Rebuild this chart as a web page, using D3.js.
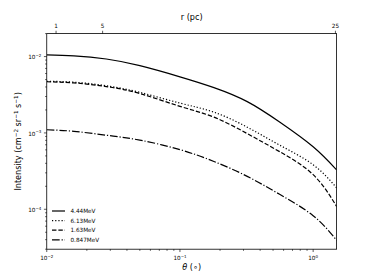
<!DOCTYPE html>
<html><head><meta charset="utf-8">
<script src="https://cdn.jsdelivr.net/npm/d3@7"></script>
<style>body{margin:0;background:#fff} text{font-family:"DejaVu Sans",sans-serif;fill:#000}</style>
</head><body>
<svg id="c" width="374" height="280"></svg>
<script>
// ---- data ----
const theta   = [0.01, 0.016, 0.028, 0.05, 0.1, 0.18, 0.32, 0.56, 1.0, 1.5];
const s444    = [0.01055, 0.01024, 0.00929, 0.0076, 0.00543, 0.00392, 0.00257, 0.00139, 6.59e-4, 3.28e-4];
const s613    = [0.00475, 0.00462, 0.00415, 0.00340, 0.00246, 0.00187, 0.00119, 6.93e-4, 3.83e-4, 1.91e-4];
const s163    = [0.00468, 0.00452, 0.00405, 0.00328, 0.00223, 0.00161, 9.8e-4, 5.69e-4, 2.84e-4, 1.09e-4];
const s0847   = [0.00110, 0.00105, 9.33e-4, 8.05e-4, 6.04e-4, 4.23e-4, 2.70e-4, 1.57e-4, 8.24e-5, 3.93e-5];
const seriesNames = ["4.44MeV", "6.13MeV", "1.63MeV", "0.847MeV"];
const xTickVals = [0.01, 0.1, 1];
const xTickExp  = ["\u22122", "\u22121", "0"];
const yTickVals = [1e-4, 1e-3, 1e-2];
const yTickExp  = ["\u22124", "\u22123", "\u22122"];
const rTicks    = [1, 5, 25];
const xDomain = [0.01, 1.5];
const yDomain = [3e-5, 2e-2];
const rDomain = [0.2, 25.1];

// ---- layout ----
const W = 374, H = 280;
const L = 46.75, R = 336.6, T = 33.6, B = 249.2;
const svg = d3.select("#c");
svg.append("rect").attr("width", W).attr("height", H).attr("fill", "#fff");

const x = d3.scaleLog().domain(xDomain).range([L, R]);
const y = d3.scaleLog().domain(yDomain).range([B, T]);
const xr = d3.scaleLinear().domain(rDomain).range([L, R]);

const lw = 1.2;
const dashes = [null, `${1*lw},${1.65*lw}`, `${3.7*lw},${1.6*lw}`, `${6.4*lw},${1.6*lw},${1*lw},${1.6*lw}`];
const series = [s444, s613, s163, s0847];

svg.append("clipPath").attr("id", "clp").append("rect")
  .attr("x", L).attr("y", T).attr("width", R - L).attr("height", B - T);

const line = d3.line().x((d, i) => x(theta[i])).y(d => y(d)).curve(d3.curveNatural);
const g = svg.append("g").attr("clip-path", "url(#clp)");
series.forEach((s, k) => {
  g.append("path").attr("d", line(s)).attr("fill", "none").attr("stroke", "#000")
    .attr("stroke-width", lw).attr("stroke-dasharray", dashes[k]);
});

function minors(dom) {
  const out = [];
  const a = Math.floor(Math.log10(dom[0])), b = Math.ceil(Math.log10(dom[1]));
  for (let e = a; e <= b; e++) for (let m = 2; m <= 9; m++) {
    const v = m * Math.pow(10, e);
    if (v >= dom[0] && v <= dom[1]) out.push(v);
  }
  return out;
}
const tickW = 0.65, majL = 2.84, minL = 1.6;
const fsTick = 5.7, fsLab = 8.1;

// bottom axis
const gb = svg.append("g");
xTickVals.forEach((v, i) => {
  gb.append("line").attr("x1", x(v)).attr("x2", x(v)).attr("y1", B).attr("y2", B + majL)
    .attr("stroke", "#000").attr("stroke-width", tickW);
  const t = gb.append("text").attr("x", x(v)).attr("y", B + 11).attr("text-anchor", "middle")
    .attr("font-size", fsTick);
  t.append("tspan").text("10");
  t.append("tspan").attr("dy", -2.2).attr("font-size", fsTick * 0.7).text(xTickExp[i]);
});
minors(xDomain).forEach(v => {
  gb.append("line").attr("x1", x(v)).attr("x2", x(v)).attr("y1", B).attr("y2", B + minL)
    .attr("stroke", "#000").attr("stroke-width", tickW);
});

// left axis
const gl = svg.append("g");
yTickVals.forEach((v, i) => {
  gl.append("line").attr("x1", L - majL).attr("x2", L).attr("y1", y(v)).attr("y2", y(v))
    .attr("stroke", "#000").attr("stroke-width", tickW);
  const t = gl.append("text").attr("x", L - 5.5).attr("y", y(v) + 2.6).attr("text-anchor", "end")
    .attr("font-size", fsTick);
  t.append("tspan").text("10");
  t.append("tspan").attr("dy", -2.2).attr("font-size", fsTick * 0.7).text(yTickExp[i]);
});
minors(yDomain).forEach(v => {
  gl.append("line").attr("x1", L - minL).attr("x2", L).attr("y1", y(v)).attr("y2", y(v))
    .attr("stroke", "#000").attr("stroke-width", tickW);
});

// top axis (r)
const gt = svg.append("g");
rTicks.forEach(v => {
  gt.append("line").attr("x1", xr(v)).attr("x2", xr(v)).attr("y1", T - majL).attr("y2", T)
    .attr("stroke", "#000").attr("stroke-width", tickW);
  gt.append("text").attr("x", xr(v)).attr("y", T - 5.8).attr("text-anchor", "middle")
    .attr("font-size", fsTick).text(v);
});

// frame
svg.append("rect").attr("x", L).attr("y", T).attr("width", R - L).attr("height", B - T)
  .attr("fill", "none").attr("stroke", "#000").attr("stroke-width", 0.8);

// labels
svg.append("text").attr("x", (L + R) / 2).attr("y", 19.5).attr("text-anchor", "middle")
  .attr("font-size", fsLab).text("r (pc)");
const xl = svg.append("text").attr("x", (L + R) / 2).attr("y", 269.5).attr("text-anchor", "middle")
  .attr("font-size", fsLab);
xl.append("tspan").attr("font-style", "italic").text("\u03b8");
xl.append("tspan").text(" (\u2218)");

const yl = svg.append("text").attr("transform", `translate(20.5,${(T + B) / 2}) rotate(-90)`)
  .attr("text-anchor", "middle").attr("font-size", fsLab);
yl.append("tspan").text("Intensity (cm");
yl.append("tspan").attr("dy", -2.8).attr("font-size", fsLab * 0.7).text("\u22122");
yl.append("tspan").attr("dy", 2.8).text(" sr");
yl.append("tspan").attr("dy", -2.8).attr("font-size", fsLab * 0.7).text("\u22121");
yl.append("tspan").attr("dy", 2.8).text(" s");
yl.append("tspan").attr("dy", -2.8).attr("font-size", fsLab * 0.7).text("\u22121");
yl.append("tspan").attr("dy", 2.8).text(")");

// legend
const lg = svg.append("g");
const lx0 = 52, lLen = 13, ly0 = 211, lStep = 9.6;
seriesNames.forEach((n, k) => {
  const yy = ly0 + k * lStep;
  lg.append("line").attr("x1", lx0).attr("x2", lx0 + lLen).attr("y1", yy).attr("y2", yy)
    .attr("stroke", "#000").attr("stroke-width", lw).attr("stroke-dasharray", dashes[k]);
  lg.append("text").attr("x", lx0 + lLen + 5.5).attr("y", yy + 2.1).attr("font-size", fsTick).text(n);
});
</script>
</body></html>
